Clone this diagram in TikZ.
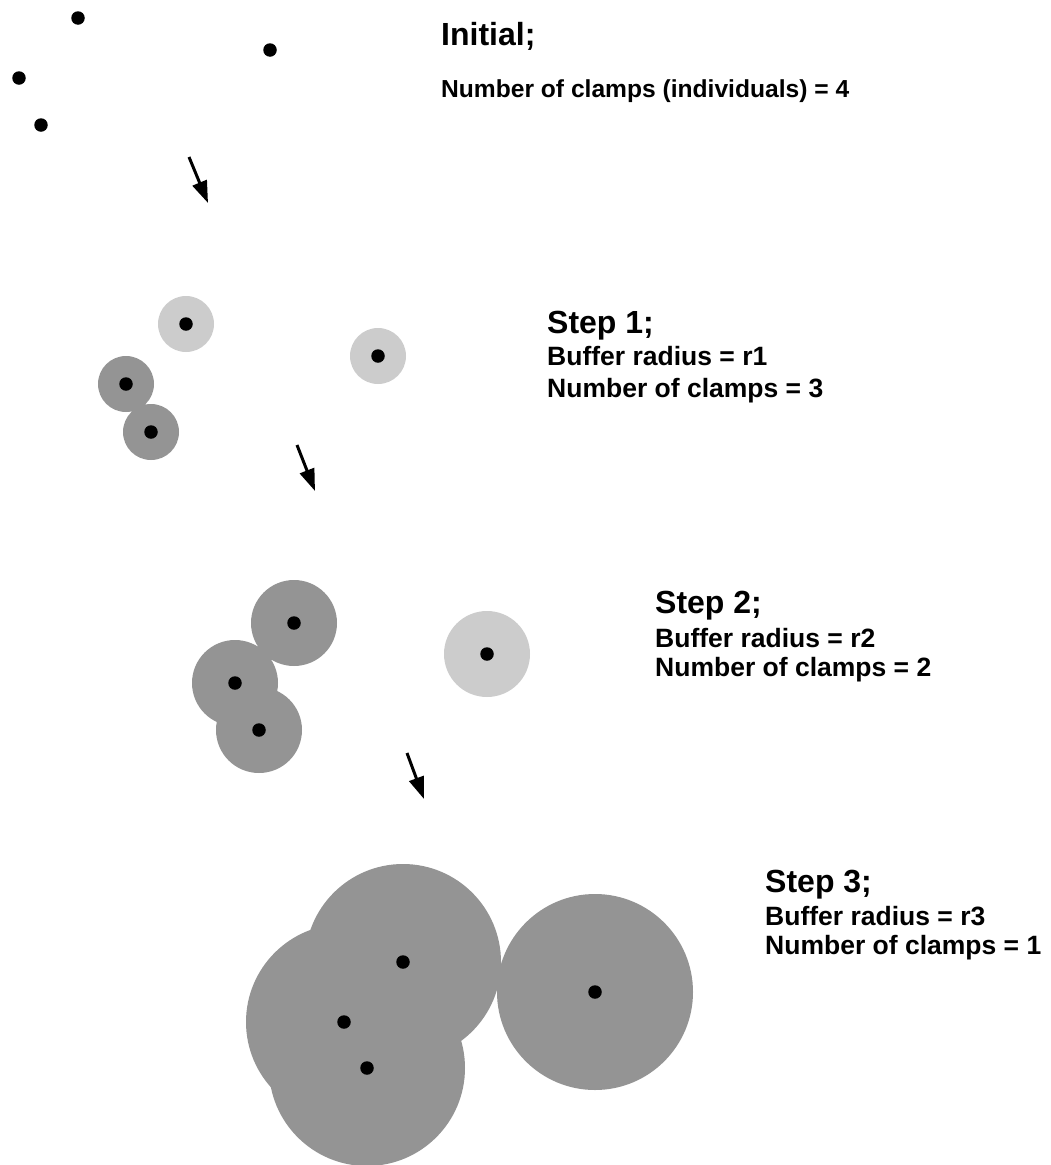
\documentclass[tikz,border=0pt]{standalone}
\usepackage{fontspec}
\setmainfont{Liberation Sans}
\usetikzlibrary{arrows.meta}

\begin{document}
\begin{tikzpicture}[x=1pt, y=-1pt,
                    dot/.style={circle, fill=black, inner sep=0pt, minimum size=13.5pt},
                    title/.style={anchor=base west, inner sep=0pt, font=\bfseries\fontsize{32}{36}\selectfont},
                    info/.style={anchor=base west, inner sep=0pt, font=\bfseries\fontsize{26.5}{30}\selectfont},
                    stage/.style={line width=3pt, -{Triangle[length=22pt, width=15pt]}}]
                    \useasboundingbox (0,0) rectangle (1051,1165);
                    \colorlet{lightbuf}{black!20}
                    \colorlet{darkbuf}{black!42}

                    % Initial: single points
                    \node[dot] (i1) at (78,18) {};
                    \node[dot] (i2) at (270,50) {};
                    \node[dot] (i3) at (19,78) {};
                    \node[dot] (i4) at (41,125) {};
                    \node[title] (t0) at (441,45) {Initial;};
                    \node[info, font=\bfseries\fontsize{24.6}{30}\selectfont] (n0) at (441,97) {Number of clamps (individuals) = 4};

                    \coordinate (a1s) at (189,157);
                    \coordinate (a1e) at (208,203);
                    \draw[stage] (a1s) -- (a1e);

                    % Step 1: small buffers
                    \fill[lightbuf] (186,324) circle (28) (378,356) circle (28);
                    \fill[darkbuf] (126,384) circle (28) (151,432) circle (28);
                    \node[dot] (p1) at (186,324) {};
                    \node[dot] (q1) at (378,356) {};
                    \node[dot] (r1) at (126,384) {};
                    \node[dot] (s1) at (151,432) {};
                    \node[title] (t1) at (547,333) {Step 1;};
                    \node[info] (b1) at (547,365) {Buffer radius = r1};
                    \node[info] (n1) at (547,397) {Number of clamps = 3};

                    \coordinate (a2s) at (297,445);
                    \coordinate (a2e) at (315,491);
                    \draw[stage] (a2s) -- (a2e);

                    % Step 2: medium buffers
                    \fill[lightbuf] (487,654) circle (43);
                    \fill[darkbuf] (294,623) circle (43) (235,683) circle (43) (259,730) circle (43);
                    \node[dot] (p2) at (294,623) {};
                    \node[dot] (q2) at (487,654) {};
                    \node[dot] (r2) at (235,683) {};
                    \node[dot] (s2) at (259,730) {};
                    \node[title] (t2) at (655,613) {Step 2;};
                    \node[info] (b2) at (655,647) {Buffer radius = r2};
                    \node[info] (n2) at (655,676) {Number of clamps = 2};

                    \coordinate (a3s) at (407,753);
                    \coordinate (a3e) at (424,799);
                    \draw[stage] (a3s) -- (a3e);

                    % Step 3: large buffers, all merged
                    \fill[darkbuf] (403,962) circle (98) (344,1022) circle (98)
                                   (367,1068) circle (98) (595,992) circle (98);
                    \node[dot] (p3) at (403,962) {};
                    \node[dot] (q3) at (595,992) {};
                    \node[dot] (r3) at (344,1022) {};
                    \node[dot] (s3) at (367,1068) {};
                    \node[title] (t3) at (765,892) {Step 3;};
                    \node[info] (b3) at (765,925) {Buffer radius = r3};
                    \node[info] (n3) at (765,954) {Number of clamps = 1};
                \end{tikzpicture}
\end{document}
